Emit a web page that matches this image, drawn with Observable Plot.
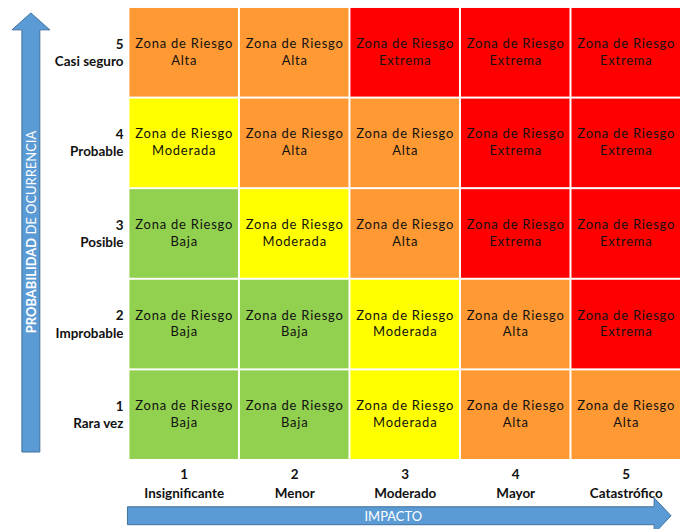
<!DOCTYPE html>
<html>
<head>
<meta charset="utf-8">
<script src="https://cdn.jsdelivr.net/npm/d3@7"></script>
<script src="https://cdn.jsdelivr.net/npm/@observablehq/plot@0.6"></script>
<style>
  html, body { margin: 0; padding: 0; background: #fff; overflow: hidden; }
  svg { display: block; }
  .cell-label text { letter-spacing: 0.8px; }
</style>
</head>
<body>
<div id="chart"></div>
<script>
// Impact (x) categories
const impactNums = [1, 2, 3, 4, 5];
const impactNames = ["Insignificante", "Menor", "Moderado", "Mayor", "Catastrófico"];
// Probability (y) categories
const probNums = [1, 2, 3, 4, 5];
const probNames = ["Rara vez", "Improbable", "Posible", "Probable", "Casi seguro"];
// Risk level per probability row, across impacts 1..5
const rowProb1 = ["Baja", "Baja", "Moderada", "Alta", "Alta"];
const rowProb2 = ["Baja", "Baja", "Moderada", "Alta", "Extrema"];
const rowProb3 = ["Baja", "Moderada", "Alta", "Extrema", "Extrema"];
const rowProb4 = ["Moderada", "Alta", "Alta", "Extrema", "Extrema"];
const rowProb5 = ["Alta", "Alta", "Extrema", "Extrema", "Extrema"];
const levels = ["Baja", "Moderada", "Alta", "Extrema"];
const levelColors = ["#92d050", "#ffff00", "#ff9933", "#ff0000"];
const cellPrefix = "Zona de Riesgo";
const xTitle = "IMPACTO";
const yTitleBold = "PROBABILIDAD";
const yTitleRest = " DE OCURRENCIA";

const rows = [rowProb1, rowProb2, rowProb3, rowProb4, rowProb5];
const data = [];
rows.forEach((row, i) => row.forEach((lvl, j) => data.push({impact: impactNums[j], prob: probNums[i], level: lvl})));

const font = "Lato, 'Open Sans', sans-serif";
const W = 685, H = 531;

const plot = Plot.plot({
  width: W,
  height: H,
  marginLeft: 127.5,
  marginRight: 0,
  marginTop: 5,
  marginBottom: 67.5,
  style: {fontFamily: font, background: "#fff"},
  x: {type: "band", domain: impactNums, padding: 0},
  y: {type: "band", domain: [...probNums].reverse(), padding: 0},
  color: {domain: levels, range: levelColors},
  marks: [
    Plot.cell(data, {x: "impact", y: "prob", fill: "level", inset: 1}),
    Plot.text(data, {
      x: "impact", y: "prob",
      text: d => cellPrefix + "\n" + d.level,
      fontSize: 13, lineHeight: 1.3, fill: "#111", dy: -2,
      className: "cell-label"
    }),
    Plot.axisX({
      anchor: "bottom", tickSize: 0, tickPadding: 3,
      tickFormat: d => d + "\n" + impactNames[d - 1],
      fontSize: 13.5, fontWeight: "bold", lineHeight: 1.45, fill: "#111", label: null
    }),
    Plot.axisY({
      anchor: "left", tickSize: 0, tickPadding: 4, dy: -1,
      tickFormat: d => d + "\n" + probNames[d - 1],
      fontSize: 13.5, fontWeight: "bold", lineHeight: 1.28, fill: "#111", label: null
    })
  ]
});

const svg = d3.select(plot);
svg.selectAll(".cell-label text").style("letter-spacing", "0.8px");
const blue = "#5b9bd5", blueStroke = "#41719c";

// vertical arrow (probability)
svg.append("path")
  .attr("d", "M22,454 L22,30 L12,30 L31,13 L50,30 L40,30 L40,454 Z")
  .attr("fill", blue).attr("stroke", blueStroke).attr("stroke-width", 1);
const yt = svg.append("text")
  .attr("transform", "translate(31,233) rotate(-90)")
  .attr("text-anchor", "middle").attr("dominant-baseline", "central")
  .attr("fill", "#fff").attr("font-size", 13).attr("font-family", font);
yt.append("tspan").attr("font-weight", "bold").text(yTitleBold);
yt.append("tspan").text(yTitleRest);

// horizontal arrow (impact)
svg.append("path")
  .attr("d", "M128,509 L657,509 L657,500 L674,518 L657,536 L657,527 L128,527 Z")
  .attr("fill", blue).attr("stroke", blueStroke).attr("stroke-width", 1);
svg.append("text")
  .attr("x", 395).attr("y", 518)
  .attr("text-anchor", "middle").attr("dominant-baseline", "central")
  .attr("fill", "#fff").attr("font-size", 13).attr("font-family", font)
  .text(xTitle);

document.getElementById("chart").appendChild(plot);
</script>
</body>
</html>
